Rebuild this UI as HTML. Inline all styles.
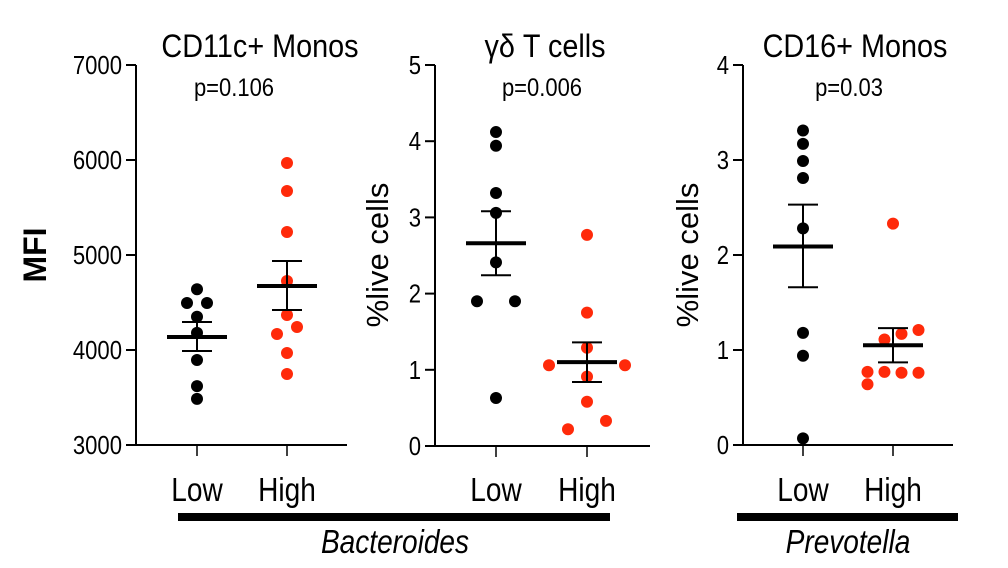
<!DOCTYPE html>
<html><head><meta charset="utf-8"><style>
html,body{margin:0;padding:0;background:#fff;}
svg{display:block;font-family:"Liberation Sans",sans-serif;}
</style></head><body>
<svg id="chart" width="1008" height="568" viewBox="0 0 1008 568"></svg>
<script>
const categories = ["Low","High"];
const p1Low = [4640,4495,4495,4350,4180,3895,3620,3485];
const p1LowDx = [0,-1,1,0,0,0,0,0];
const p1High = [5968,5674,5242,4726,4368,4242,4168,3968,3747];
const p1HighDx = [0,0,0,0,0,1,-1,0,0];
const p1Stats = [[4137,4295,3990],[4674,4937,4421]];
const p1Ticks = [3000,4000,5000,6000,7000];
const p2Low = [4.12,3.94,3.32,3.06,2.41,1.90,1.90,0.63];
const p2LowDx = [0,0,0,0,0,-1,1,0];
const p2High = [2.77,1.75,1.29,1.06,1.06,0.91,0.58,0.33,0.22];
const p2HighDx = [0,0,0,-2,2,0,0,1,-1];
const p2Stats = [[2.66,3.08,2.24],[1.10,1.36,0.84]];
const p2Ticks = [0,1,2,3,4,5];
const p3Low = [3.31,3.17,2.99,2.81,2.28,1.18,0.94,0.07];
const p3LowDx = [0,0,0,0,0,0,0,0];
const p3High = [2.33,1.21,1.17,1.11,0.77,0.77,0.76,0.76,0.64];
const p3HighDx = [0,3,1,-1,-3,-1,1,3,-3];
const p3Stats = [[2.09,2.53,1.66],[1.05,1.23,0.87]];
const p3Ticks = [0,1,2,3,4];

const svg = document.getElementById('chart');
const NS = "http://www.w3.org/2000/svg";
function mk(tag, attrs, parent){const e=document.createElementNS(NS,tag);for(const k in attrs)e.setAttribute(k,attrs[k]);(parent||svg).appendChild(e);return e;}
// condensed text: scale horizontally
function txt(s,x,y,size,anchor,extra,sx){
  sx = sx||0.9;
  const t=mk('text',Object.assign({x:0,y:0,'font-size':size,'text-anchor':anchor||'middle',fill:'#000',transform:`translate(${x},${y}) scale(${sx},1)`},extra||{}));
  t.textContent=s;return t;}

function panel(cfg){
  const g=mk('g',{});
  
  
  const yS=v=>cfg.y0-(v-cfg.min)/(cfg.max-cfg.min)*(cfg.y0-cfg.y1);
  const xS=i=>cfg.cx[i];
  const ya=mk('line',{x1:cfg.ax,y1:cfg.y1,x2:cfg.ax,y2:cfg.y0,stroke:'#000','stroke-width':2},g);
  
  
  const xa=mk('line',{x1:cfg.ax,y1:cfg.y0,x2:cfg.xend,y2:cfg.y0,stroke:'#000','stroke-width':2},g);
  
  
  cfg.ticks.forEach(v=>{
    mk('line',{x1:cfg.ax-10,y1:yS(v),x2:cfg.ax,y2:yS(v),stroke:'#000','stroke-width':2},g);
    const t=txt(String(v),cfg.ax-14,yS(v)+9,26,'end',null,0.85);
    
    
  });
  categories.forEach((c,i)=>{
    mk('line',{x1:xS(i),y1:cfg.y0,x2:xS(i),y2:cfg.y0+11,stroke:'#000','stroke-width':1.5},g);
    const t=txt(c,xS(i),cfg.labY,33,'middle',null,0.85);
    
    
  });
  const series=[[cfg.low,cfg.lowDx,'#000'],[cfg.high,cfg.highDx,'#ff2a0a']];
  series.forEach((s,i)=>{
    s[0].forEach((v,j)=>{
      const c=mk('circle',{cx:xS(i)+s[1][j]*cfg.dx,cy:yS(v),r:6,fill:s[2]},g);
      
      
    });
    const st=cfg.stats[i];
    const m=mk('line',{x1:xS(i)-30,y1:yS(st[0]),x2:xS(i)+30,y2:yS(st[0]),stroke:'#000','stroke-width':4},g);
    
    
    mk('line',{x1:xS(i),y1:yS(st[1]),x2:xS(i),y2:yS(st[2]),stroke:'#000','stroke-width':2},g);
    mk('line',{x1:xS(i)-15,y1:yS(st[1]),x2:xS(i)+15,y2:yS(st[1]),stroke:'#000','stroke-width':2},g);
    mk('line',{x1:xS(i)-15,y1:yS(st[2]),x2:xS(i)+15,y2:yS(st[2]),stroke:'#000','stroke-width':2},g);
  });
  const ti=txt(cfg.title,cfg.tx,57,32,'middle',null,0.9);
  
  
  const p=txt(cfg.p,cfg.px,96,25,'middle',null,0.88);
  
  
  const yl=mk('text',{x:0,y:0,'font-size':cfg.ylsize,'font-weight':cfg.ylw,'text-anchor':'middle',fill:'#000',transform:`translate(${cfg.ylx},255) rotate(-90)`},g);
  yl.textContent=cfg.ylab;
  
  
}
panel({name:'panel-cd11c-monos',min:3000,max:7000,y0:445,y1:65,ax:136,xend:347,cx:[197,287],dx:10,labY:501,
  low:p1Low,lowDx:p1LowDx,high:p1High,highDx:p1HighDx,stats:p1Stats,ticks:p1Ticks,
  title:'CD11c+ Monos',tx:260,p:'p=0.106',px:234,ylab:'MFI',ylx:46,ylsize:32,ylw:'bold'});
panel({name:'panel-gd-t-cells',min:0,max:5,y0:446,y1:65,ax:435,xend:650,cx:[496,587],dx:19,labY:501,
  low:p2Low,lowDx:p2LowDx,high:p2High,highDx:p2HighDx,stats:p2Stats,ticks:p2Ticks,
  title:'γδ T cells',tx:545,p:'p=0.006',px:542,ylab:'%live cells',ylx:388,ylsize:31,ylw:'normal'});
panel({name:'panel-cd16-monos',min:0,max:4,y0:445,y1:65,ax:743,xend:953,cx:[803,893],dx:8.5,labY:501,
  low:p3Low,lowDx:p3LowDx,high:p3High,highDx:p3HighDx,stats:p3Stats,ticks:p3Ticks,
  title:'CD16+ Monos',tx:855,p:'p=0.03',px:849,ylab:'%live cells',ylx:698,ylsize:31,ylw:'normal'});
const b1=mk('rect',{x:178,y:513,width:432,height:8,fill:'#000'});


const b2=mk('rect',{x:737,y:513,width:221,height:8,fill:'#000'});


const l1=txt('Bacteroides',395,553,33,'middle',{'font-style':'italic'},0.85);


const l2=txt('Prevotella',848,553,33,'middle',{'font-style':'italic'},0.85);


</script>
</body></html>
